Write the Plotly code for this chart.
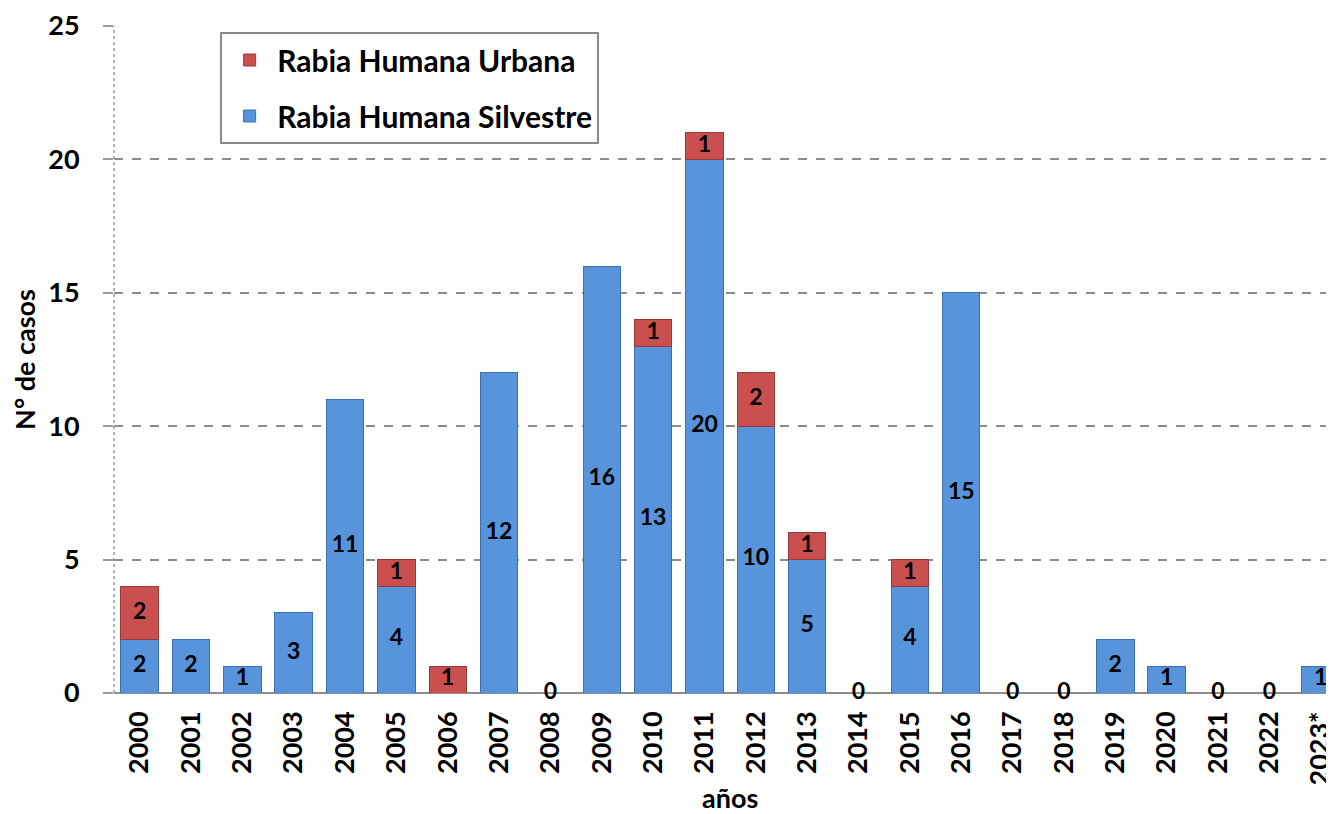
import plotly.graph_objects as go

years = ["2000", "2001", "2002", "2003", "2004", "2005", "2006", "2007", "2008", "2009",
         "2010", "2011", "2012", "2013", "2014", "2015", "2016", "2017", "2018", "2019",
         "2020", "2021", "2022", "2023*"]
silvestre = [2, 2, 1, 3, 11, 4, 0, 12, 0, 16, 13, 20, 10, 5, 0, 4, 15, 0, 0, 2, 1, 0, 0, 1]
urbana = [2, 0, 0, 0, 0, 1, 1, 0, 0, 0, 1, 1, 2, 1, 0, 1, 0, 0, 0, 0, 0, 0, 0, 0]

BLUE = "#5894DB"
BLUE_EDGE = "#3E6FAE"
RED = "#C9504E"
RED_EDGE = "#96393A"
FONT = "Lato"

fig = go.Figure()
fig.add_trace(go.Bar(x=years, y=[v if v > 0 else None for v in silvestre],
                     name="Rabia Humana Silvestre", legendrank=2,
                     marker=dict(color=BLUE, line=dict(color=BLUE_EDGE, width=1)),
                     legendgroup="s"))
fig.add_trace(go.Bar(x=years, y=[v if v > 0 else None for v in urbana],
                     name="Rabia Humana Urbana", legendrank=1,
                     marker=dict(color=RED, line=dict(color=RED_EDGE, width=1)),
                     legendgroup="u"))

# labels
lx, ly, lt = [], [], []
for yr, s, u in zip(years, silvestre, urbana):
    if s > 0 or (s + u) == 0:
        lx.append(yr); ly.append(s / 2); lt.append(str(s))
    if u > 0:
        lx.append(yr); ly.append(s + u / 2); lt.append(str(u))
fig.add_trace(go.Scatter(x=lx, y=ly, text=lt, mode="text", showlegend=False,
                         cliponaxis=False, hoverinfo="skip",
                         textfont=dict(family=FONT, size=23, color="black", weight="bold")))

fig.update_layout(
    width=1326, height=806,
    barmode="stack", bargap=0.27,
    plot_bgcolor="white", paper_bgcolor="white",
    margin=dict(l=106, r=0, t=18, b=121),
    font=dict(family=FONT, color="black"),
    legend=dict(x=0.087, y=0.991, xanchor="left", yanchor="top",
                traceorder="grouped", bordercolor="#8a8a8a", borderwidth=2,
                bgcolor="white", tracegroupgap=14, itemwidth=45,
                entrywidth=380, entrywidthmode="pixels",
                font=dict(family=FONT, size=30, color="black", weight="bold")),
    xaxis=dict(range=[-0.5, 23.26], tickangle=-90, showgrid=False, automargin=False,
               tickfont=dict(family=FONT, size=27, color="black", weight="bold"),
               ticklabelstandoff=12),
    yaxis=dict(range=[0, 25], dtick=5, showgrid=True, gridcolor="#8c8c8c", automargin=False,
               griddash="dash", gridwidth=1.5, zeroline=True, zerolinecolor="#8c8c8c",
               zerolinewidth=2, ticks="outside", ticklen=10, tickcolor="#9a9a9a",
               tickwidth=1.5, ticklabelstandoff=18,
               tickfont=dict(family=FONT, size=27, color="black", weight="bold"),
               title=dict(text="N° de casos", standoff=8,
                          font=dict(family=FONT, size=27, color="black", weight="bold"))),
    annotations=[dict(text="años", xref="paper", yref="paper", x=0.505, y=-0.156,
                      xanchor="center", yanchor="middle", showarrow=False,
                      font=dict(family=FONT, size=27, color="black", weight="bold"))],
    shapes=[dict(type="line", xref="paper", yref="paper", x0=0, x1=0, y0=0, y1=1,
                 line=dict(color="#9a9a9a", width=1.5, dash="dot"), layer="below")],
)

fig.write_html("out.html")
